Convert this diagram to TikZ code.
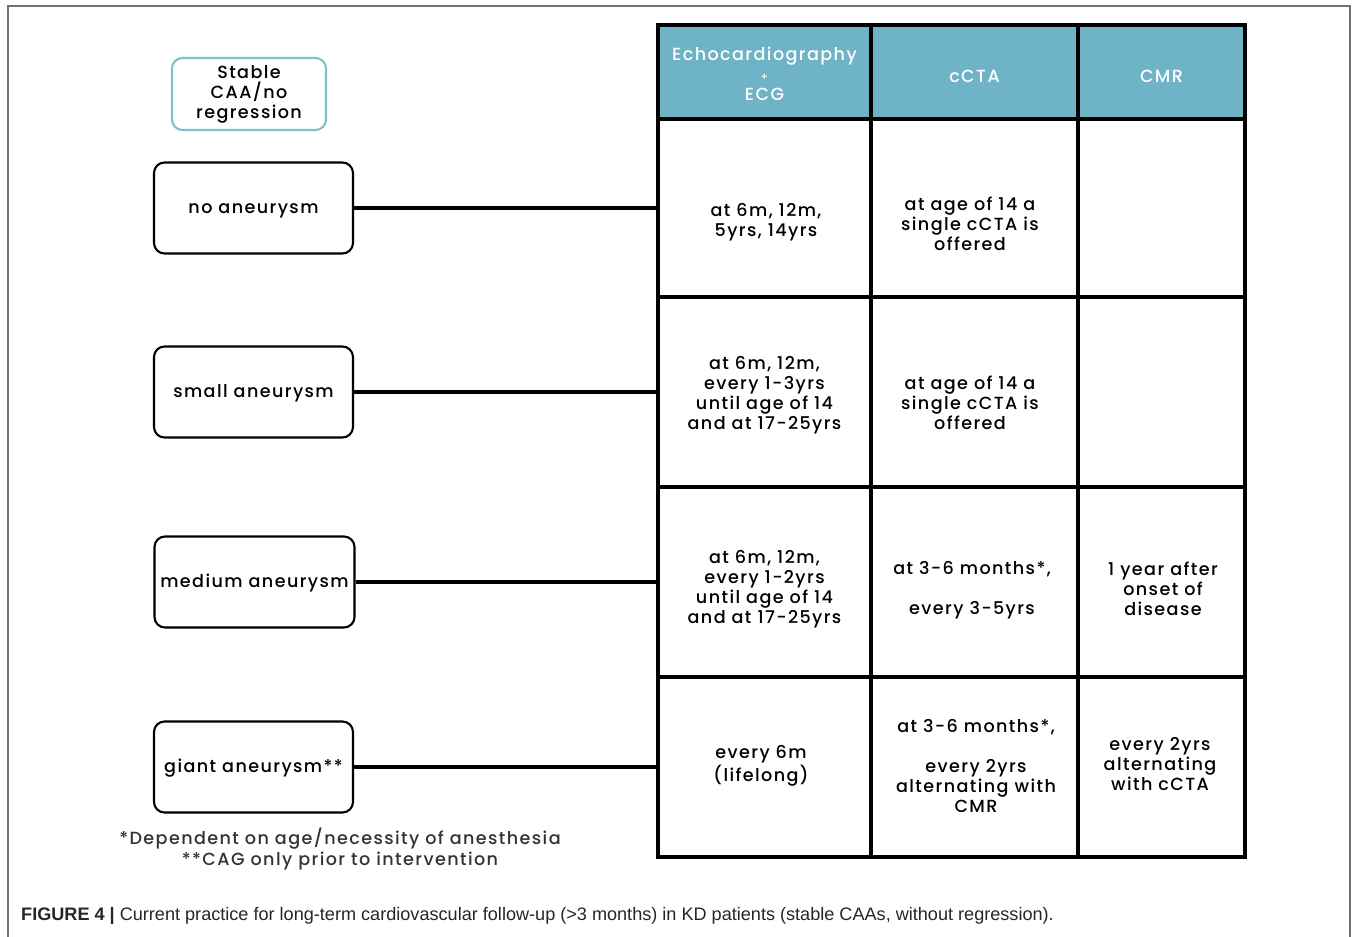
\documentclass[tikz,border=0pt]{standalone}
\usepackage{fontspec}
\setmainfont{Poppins}[UprightFont=* Medium, LetterSpace=8]
\newfontfamily\capfont{Liberation Sans}
\definecolor{headteal}{HTML}{6FB3C6}
\definecolor{stableteal}{HTML}{7DBFCB}
\definecolor{framegray}{HTML}{707070}
\begin{document}
\begin{tikzpicture}
[font=\fontsize{10}{11.4}\selectfont, line join=miter]
\tikzstyle{cell}=[draw, line width=2.8pt, inner sep=0pt]
\tikzstyle{head}=[cell, fill=headteal, minimum height=1.88cm]
\tikzstyle{entry}=[align=center, inner sep=0pt]
\tikzstyle{grade}=[draw, line width=1.2pt, rounded corners=6pt, text height=6.7pt, text depth=0pt, minimum width=3.98cm, minimum height=1.82cm]
\tikzstyle{link}=[line width=2.3pt]
\useasboundingbox (0,0) rectangle (27.14,-18.74);
\draw[framegray, line width=0.8pt] (0.16,-19) -- (0.16,-0.12) -- (27.0,-0.12) -- (27.0,-19);
% header row
\node[head, minimum width=4.26cm]	(H1)	at (15.29,-1.44)	{};
\node[head, minimum width=4.14cm]	(H2)	at (19.49,-1.44)	{};
\node[head, minimum width=3.34cm]	(H3)	at (23.23,-1.44)	{};
% table cells
\node[cell, minimum width=4.26cm, minimum height=3.56cm]	(A1)	at (15.29,-4.16)	{};
\node[cell, minimum width=4.14cm, minimum height=3.56cm]	(B1)	at (19.49,-4.16)	{};
\node[cell, minimum width=3.34cm, minimum height=3.56cm]	(C1)	at (23.23,-4.16)	{};
\node[cell, minimum width=4.26cm, minimum height=3.80cm]	(A2)	at (15.29,-7.84)	{};
\node[cell, minimum width=4.14cm, minimum height=3.80cm]	(B2)	at (19.49,-7.84)	{};
\node[cell, minimum width=3.34cm, minimum height=3.80cm]	(C2)	at (23.23,-7.84)	{};
\node[cell, minimum width=4.26cm, minimum height=3.80cm]	(A3)	at (15.29,-11.64)	{};
\node[cell, minimum width=4.14cm, minimum height=3.80cm]	(B3)	at (19.49,-11.64)	{};
\node[cell, minimum width=3.34cm, minimum height=3.80cm]	(C3)	at (23.23,-11.64)	{};
\node[cell, minimum width=4.26cm, minimum height=3.60cm]	(A4)	at (15.29,-15.34)	{};
\node[cell, minimum width=4.14cm, minimum height=3.60cm]	(B4)	at (19.49,-15.34)	{};
\node[cell, minimum width=3.34cm, minimum height=3.60cm]	(C4)	at (23.23,-15.34)	{};
% cell texts
\node[entry, text=white]	(tH1)	at (15.29,-1.48)	{Echocardiography\\{\fontsize{6}{6}\selectfont +}\\ECG};
\node[entry, text=white]	(tH2)	at (19.49,-1.52)	{cCTA};
\node[entry, text=white]	(tH3)	at (23.23,-1.52)	{CMR};
\node[entry]	(tA1)	at (15.32,-4.44)	{at 6m, 12m,\\5yrs, 14yrs};
\node[entry]	(tB1)	at (19.40,-4.48)	{at age of 14 a\\single cCTA is\\offered};
\node[entry]	(tA2)	at (15.29,-7.90)	{at 6m, 12m,\\every 1-3yrs\\until age of 14\\and at 17-25yrs};
\node[entry]	(tB2)	at (19.40,-8.06)	{at age of 14 a\\single cCTA is\\offered};
\node[entry]	(tA3)	at (15.29,-11.78)	{at 6m, 12m,\\every 1-2yrs\\until age of 14\\and at 17-25yrs};
\node[entry]	(tB3)	at (19.44,-11.80)	{at 3-6 months*,\\[11.4pt]every 3-5yrs};
\node[entry]	(tC3)	at (23.26,-11.78)	{1 year after\\onset of\\disease};
\node[entry]	(tA4)	at (15.22,-15.32)	{every 6m\\(lifelong)};
\node[entry]	(tB4)	at (19.52,-15.32)	{at 3-6 months*,\\[11.4pt]every 2yrs\\alternating with\\CMR};
\node[entry]	(tC4)	at (23.20,-15.28)	{every 2yrs\\alternating\\with cCTA};
% left column
\node[draw=stableteal, line width=1.2pt, rounded corners=6pt, align=center, minimum width=3.08cm, minimum height=1.44cm]	(S)	at (4.98,-1.88)	{Stable\\CAA/no\\regression};
\node[grade]	(G1)	at (5.07,-4.16)	{no aneurysm};
\node[grade]	(G2)	at (5.07,-7.84)	{small aneurysm};
\node[grade]	(G3)	at (5.09,-11.64)	{medium aneurysm};
\node[grade]	(G4)	at (5.07,-15.34)	{giant aneurysm**};
\draw[link] (G1.east) -- (A1.west);
\draw[link] (G2.east) -- (A2.west);
\draw[link] (G3.east) -- (A3.west);
\draw[link] (G4.east) -- (A4.west);
\node[align=center, text=black!80]	(N)	at (6.8,-16.98)	{*Dependent on age/necessity of anesthesia\\**CAG only prior to intervention};
\node[anchor=west, font=\capfont\fontsize{10.3}{11}\selectfont, text=black!85]	(cap)	at (0.30,-18.32)	{\textbf{FIGURE 4} \textbf{|} Current practice for long-term cardiovascular follow-up (>3 months) in KD patients (stable CAAs, without regression).};
\end{tikzpicture}
\end{document}
